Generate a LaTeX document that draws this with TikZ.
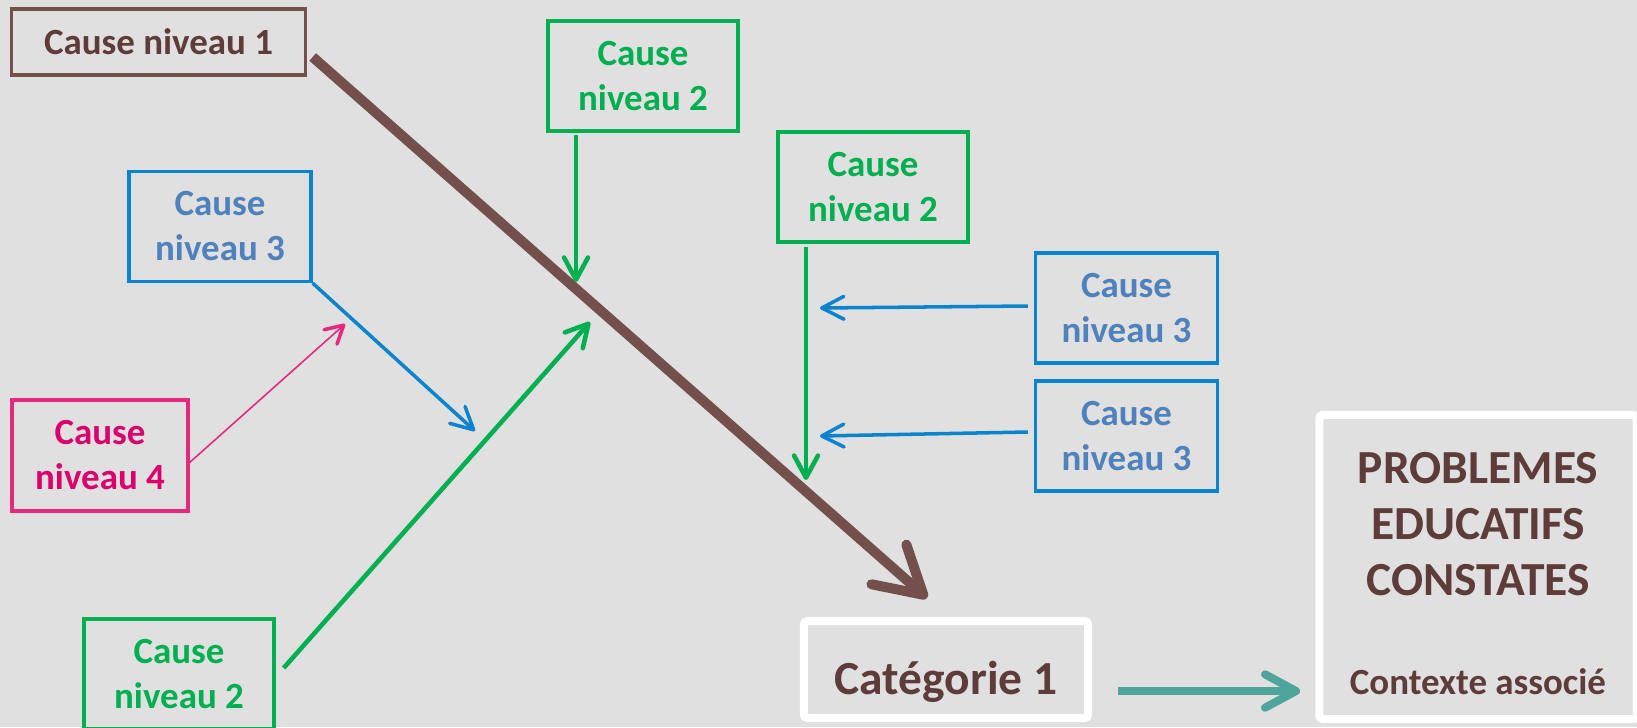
\documentclass[tikz,border=0pt]{standalone}
\usepackage{fontspec}
\setmainfont{Carlito}
\usetikzlibrary{arrows.meta}

\definecolor{fond}{HTML}{E0E0E0}
\definecolor{brun}{HTML}{74504D}
\definecolor{bruntexte}{HTML}{5E3C3A}
\definecolor{vert}{HTML}{00B050}
\definecolor{bleu}{HTML}{0A84CF}
\definecolor{bleutexte}{HTML}{4F81BD}
\definecolor{rose}{HTML}{E6287F}
\definecolor{rosetexte}{HTML}{DC006C}
\definecolor{sarcelle}{HTML}{4EA59C}

\tikzset{
  cause/.style={draw, line width=0.9pt, align=center, inner sep=0pt,
    font=\fontsize{10.5}{12.8}\selectfont\bfseries},
  niv1/.style={cause, draw=brun, text=bruntexte, minimum width=2.93cm, minimum height=0.66cm},
  niv2/.style={cause, draw=vert, text=vert, minimum width=1.9cm, minimum height=1.1cm},
  niv3/.style={cause, draw=bleu, text=bleutexte, minimum width=1.82cm, minimum height=1.1cm},
  niv4/.style={cause, draw=rose, text=rosetexte, minimum width=1.76cm, minimum height=1.11cm},
  cadre/.style={draw=white, line width=2.3pt, rounded corners=1pt, inner sep=0pt},
  fleche1/.style={brun, line width=2.85pt, -{Straight Barb[length=13pt,width=15pt,round]}},
  fleche2/.style={vert, line width=1.3pt, -{Straight Barb[length=6.3pt,width=6.8pt,round]}},
  fleche3/.style={bleu, line width=1pt, -{Straight Barb[length=6.3pt,width=6.5pt,round]}},
  fleche4/.style={rose, line width=0.45pt, -{Straight Barb[length=5pt,width=5.5pt,round,line width=1pt]}},
  fleche5/.style={sarcelle, line width=2.3pt, -{Straight Barb[length=8.8pt,width=9.5pt,round]}}
}

\begin{document}
\begin{tikzpicture}[x=0.01cm,y=-0.01cm]
\useasboundingbox (0,0) rectangle (1637,727);
\clip (0,0) rectangle (1637,727);
\fill[fond] (0,0) rectangle (1637,727);

\node[niv1] (c1) at (158.5,42) {Cause niveau 1};
\node[niv2] (v1) at (643,76) {Cause\\niveau 2};
\node[niv2] (v2) at (873,187) {Cause\\niveau 2};
\node[niv2] (v3) at (179,674) {Cause\\niveau 2};
\node[niv3] (b1) at (1126.5,308) {Cause\\niveau 3};
\node[niv3] (b2) at (1126.5,436) {Cause\\niveau 3};
\node[niv3] (b3) at (220,226.5) {Cause\\niveau 3};
\node[niv4] (r1) at (100,455.5) {Cause\\niveau 4};
\node[cadre, minimum width=2.84cm, minimum height=0.97cm, text=bruntexte,
  font=\fontsize{13.5}{16}\selectfont\bfseries, text height=14pt, text depth=0pt] (cat) at (946,669.5) {Catégorie 1};
\node[cadre, minimum width=3.17cm, minimum height=3.04cm] (pb) at (1478,567) {};
\node[text=bruntexte, align=center, font=\fontsize{13.5}{16}\selectfont\bfseries] (pbtitre) at (1478,524) {PROBLEMES\\EDUCATIFS\\CONSTATES};
\node[text=bruntexte, font=\fontsize{10.5}{12.8}\selectfont\bfseries] (pbctx) at (1478,682) {Contexte associé};

% pointes des fleches
\coordinate (p1) at (927,598);
\coordinate (p2) at (576,282);
\coordinate (p3) at (806,480);
\coordinate (p4) at (820,308);
\coordinate (p5) at (820,436);
\coordinate (p6) at (475,431);
\coordinate (p7) at (345,324);
\coordinate (p8) at (590,322);
\coordinate (p9) at (1300,691);

\draw[fleche1] ([shift={(6,15)}]c1.east) -- (p1);
\draw[fleche2] ([shift={(-67,2)}]v1.south) -- (p2);
\draw[fleche2] ([shift={(-67,3)}]v2.south) -- (p3);
\draw[fleche3] ([shift={(-6,-2)}]b1.west) -- (p4);
\draw[fleche3] ([shift={(-6,-4)}]b2.west) -- (p5);
\draw[fleche3] (b3.south east) -- (p6);
\draw[fleche4] ([shift={(0,7)}]r1.east) -- (p7);
\draw[fleche2] ([shift={(8,-6)}]v3.east) -- (p8);
\draw[fleche5] ([shift={(26,21.5)}]cat.east) -- (p9);
\end{tikzpicture}
\end{document}
